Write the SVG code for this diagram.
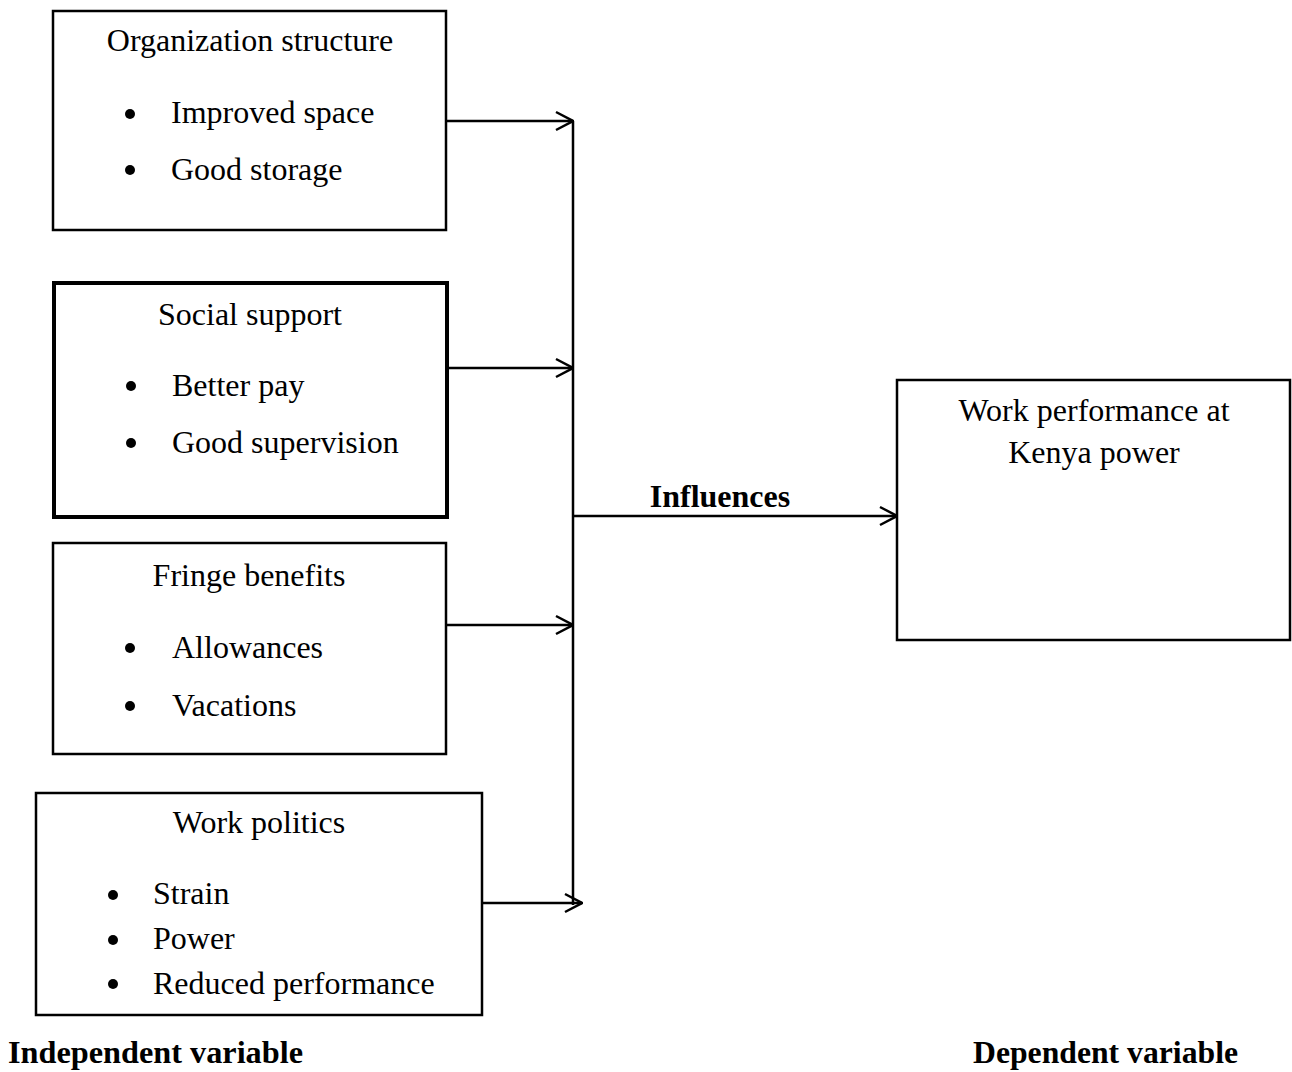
<svg xmlns="http://www.w3.org/2000/svg" width="1292" height="1072" viewBox="0 0 1292 1072">
<style>
text{font-family:"Liberation Serif","Times New Roman",serif;font-size:32px;fill:#000}
.b{font-weight:bold}
.box{fill:#fff;stroke:#000;stroke-width:2.5}
.thick{stroke-width:4}
.c{stroke:#000;stroke-width:2.5;fill:none}
.dot{fill:#000}
</style>
<defs>
<marker id="ah" viewBox="0 0 20 22" refX="19" refY="11" markerWidth="20" markerHeight="22" markerUnits="userSpaceOnUse" orient="auto">
<path d="M2,2 L19,11 L2,20" fill="none" stroke="#000" stroke-width="2.5"/>
</marker>
</defs>
<rect width="1292" height="1072" fill="#fff"/>
<g id="n1">
<rect class="box" x="53" y="11" width="393" height="219"/>
<text x="250" y="51" text-anchor="middle">Organization structure</text>
<circle class="dot" cx="130" cy="114" r="5"/>
<text x="171" y="123">Improved space</text>
<circle class="dot" cx="130" cy="170" r="5"/>
<text x="171" y="180">Good storage</text>
</g>
<g id="n2">
<rect class="box thick" x="54" y="283" width="393" height="234"/>
<text x="250" y="325" text-anchor="middle">Social support</text>
<circle class="dot" cx="131" cy="386" r="5"/>
<text x="172" y="396">Better pay</text>
<circle class="dot" cx="131" cy="443" r="5"/>
<text x="172" y="453">Good supervision</text>
</g>
<g id="n3">
<rect class="box" x="53" y="543" width="393" height="211"/>
<text x="249" y="586" text-anchor="middle">Fringe benefits</text>
<circle class="dot" cx="130" cy="648" r="5"/>
<text x="172" y="658">Allowances</text>
<circle class="dot" cx="130" cy="706" r="5"/>
<text x="172" y="716">Vacations</text>
</g>
<g id="n4">
<rect class="box" x="36" y="793" width="446" height="222"/>
<text x="259" y="833" text-anchor="middle">Work politics</text>
<circle class="dot" cx="113" cy="895" r="5"/>
<text x="153" y="904">Strain</text>
<circle class="dot" cx="113" cy="940" r="5"/>
<text x="153" y="949">Power</text>
<circle class="dot" cx="113" cy="984" r="5"/>
<text x="153" y="994">Reduced performance</text>
</g>
<g id="n5">
<rect class="box" x="897" y="380" width="393" height="260"/>
<text x="1094" y="421" text-anchor="middle">Work performance at</text>
<text x="1094" y="463" text-anchor="middle">Kenya power</text>
</g>
<g id="connectors">
<line class="c" x1="573" y1="121" x2="573" y2="905"/>
<line class="c" x1="446" y1="121" x2="573" y2="121" marker-end="url(#ah)"/>
<line class="c" x1="447" y1="368" x2="573" y2="368" marker-end="url(#ah)"/>
<line class="c" x1="446" y1="625" x2="573" y2="625" marker-end="url(#ah)"/>
<line class="c" x1="482" y1="903" x2="582" y2="903" marker-end="url(#ah)"/>
<line class="c" x1="573" y1="516" x2="897" y2="516" marker-end="url(#ah)"/>
<text class="b" x="720" y="507" text-anchor="middle">Influences</text>
</g>
<text class="b" x="8" y="1063" textLength="295" lengthAdjust="spacingAndGlyphs">Independent variable</text>
<text class="b" x="973" y="1063" textLength="265" lengthAdjust="spacingAndGlyphs">Dependent variable</text>
</svg>
